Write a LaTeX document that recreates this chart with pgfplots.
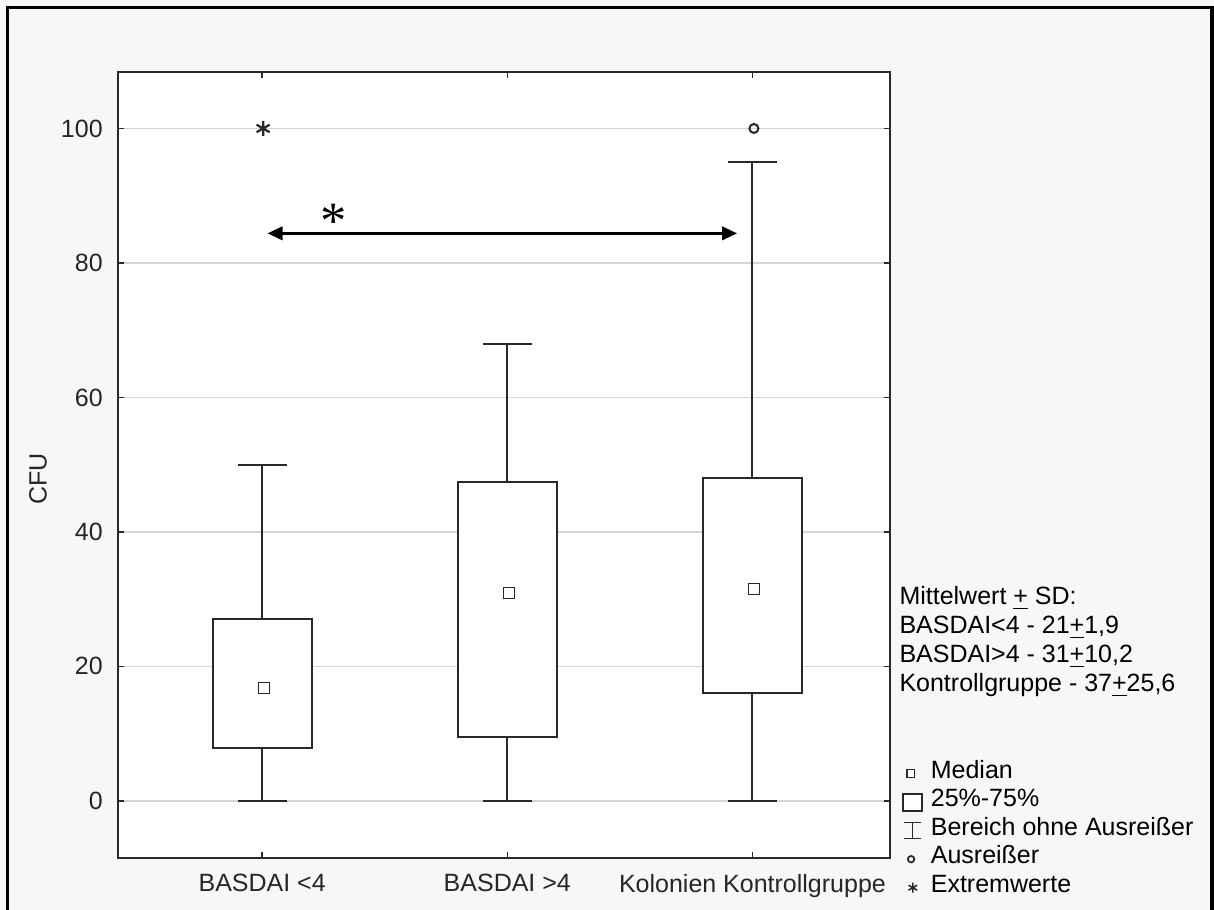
\documentclass[border=0pt]{standalone}
\usepackage{pgfplots}
\pgfplotsset{compat=1.18}
\usepackage{fontspec}
\setmainfont{Liberation Sans}
\newfontfamily\serifast{Liberation Serif}
\usetikzlibrary{arrows.meta}
\definecolor{bg}{RGB}{247,247,247}
\definecolor{gridc}{RGB}{214,214,214}
\definecolor{axc}{RGB}{40,40,40}
\begin{document}
\begin{tikzpicture}
\path[use as bounding box, fill=bg] (0,0) rectangle (485.6pt,364pt);
\draw[black, line width=1.3pt] (3pt,0pt) -- (3pt,361pt) -- (484.8pt,361pt) -- (484.8pt,0pt);
\begin{axis}[
  at={(47.2pt,20.8pt)}, anchor=south west,
  scale only axis, width=308.8pt, height=314.4pt,
  xmin=0.412, xmax=3.561, ymin=-8.5, ymax=108.4,
  xtick={1,2,3},
  xticklabels={BASDAI <4, BASDAI >4, Kolonien Kontrollgruppe},
  ytick={0,20,...,100},
  tick align=inside, major tick length=2.4pt,
  tick style={axc, line width=0.6pt},
  axis line style={axc, line width=0.8pt},
  axis background/.style={fill=white},
  ymajorgrids, major grid style={gridc, line width=0.6pt},
  font=\fontsize{10}{12}\selectfont,
  ticklabel style={font=\fontsize{10}{12}\selectfont, text=black!85},
  /pgf/number format/assume math mode=true,
  yticklabel style={xshift=-2.6pt},
  xticklabel style={yshift=-3pt},
  ylabel={CFU},
  ylabel style={at={(axis description cs:-0.1036,0.482)}, anchor=center, text=black!85},
  legend style={at={(axis description cs:1.0155,0.126)}, anchor=north west,
    draw=none, fill=none, inner sep=0pt,
    nodes={inner sep=0pt, text height=7.6pt, text depth=3.8pt, anchor=west},
    font=\fontsize{10}{12}\selectfont, row sep=0pt},
  legend cell align=left,
]
% whiskers
\addplot[forget plot, axc, line width=0.8pt] coordinates {(1,27.0) (1,50)};
\addplot[forget plot, axc, line width=0.8pt] coordinates {(0.9,50) (1.1,50)};
\addplot[forget plot, axc, line width=0.8pt] coordinates {(1,0) (1,7.8)};
\addplot[forget plot, axc, line width=0.8pt] coordinates {(0.9,0) (1.1,0)};
\addplot[forget plot, axc, line width=0.8pt] coordinates {(2,47.4) (2,68)};
\addplot[forget plot, axc, line width=0.8pt] coordinates {(1.9,68) (2.1,68)};
\addplot[forget plot, axc, line width=0.8pt] coordinates {(2,0) (2,9.5)};
\addplot[forget plot, axc, line width=0.8pt] coordinates {(1.9,0) (2.1,0)};
\addplot[forget plot, axc, line width=0.8pt] coordinates {(3,48.0) (3,95)};
\addplot[forget plot, axc, line width=0.8pt] coordinates {(2.9,95) (3.1,95)};
\addplot[forget plot, axc, line width=0.8pt] coordinates {(3,0) (3,16.1)};
\addplot[forget plot, axc, line width=0.8pt] coordinates {(2.9,0) (3.1,0)};
% boxes
\addplot[forget plot, draw=axc, fill=white, line width=0.8pt] coordinates {(0.798,7.8) (1.202,7.8) (1.202,27.0) (0.798,27.0)} -- cycle;
\addplot[forget plot, draw=axc, fill=white, line width=0.8pt] coordinates {(1.798,9.5) (2.202,9.5) (2.202,47.4) (1.798,47.4)} -- cycle;
\addplot[forget plot, draw=axc, fill=white, line width=0.8pt] coordinates {(2.798,16.1) (3.202,16.1) (3.202,48.0) (2.798,48.0)} -- cycle;
% medians
\addplot[forget plot, only marks, mark=square*, mark size=2.2pt, mark options={draw=axc, fill=white, line width=0.6pt}] coordinates {(1.007,16.8) (2.006,30.9) (3.006,31.5)};
% extreme value and outlier
\addplot[forget plot, only marks, mark=asterisk, mark size=3pt, mark options={draw=axc, line width=0.9pt}] coordinates {(1.004,100)};
\addplot[forget plot, only marks, mark=o, mark size=1.8pt, mark options={draw=axc, line width=0.8pt}] coordinates {(3.006,100)};
% significance arrow
\draw[black, line width=1pt, {Triangle[length=6pt,width=5.4pt]}-{Triangle[length=6pt,width=5.4pt]}] (axis cs:1.022,84.4) -- (axis cs:2.937,84.4);
\node[font=\serifast\fontsize{21}{21}\selectfont, inner sep=0pt, yshift=-2.6pt] at (axis cs:1.29,87.2) {*};
% legend
\addlegendimage{legend image code/.code={\path[draw=none, fill=none] (0pt,0pt) -- (11.2pt,0pt); \draw[axc, line width=0.6pt, fill=white] (1.6pt,-1.6pt) rectangle (4.6pt,1.6pt);}}
\addlegendentry{Median}
\addlegendimage{legend image code/.code={\path[draw=none, fill=none] (0pt,0pt) -- (11.2pt,0pt); \draw[axc, line width=0.7pt, fill=white] (0.2pt,-3.4pt) rectangle (7.8pt,3.4pt);}}
\addlegendentry{25\%-75\%}
\addlegendimage{legend image code/.code={\path[draw=none, fill=none] (0pt,0pt) -- (11.2pt,0pt); \draw[axc, line width=0.6pt] (0.4pt,3.2pt) -- (7.4pt,3.2pt) (3.9pt,3.2pt) -- (3.9pt,-3.2pt) (0.4pt,-3.2pt) -- (7.4pt,-3.2pt);}}
\addlegendentry{Bereich ohne Ausreißer}
\addlegendimage{legend image code/.code={\path[draw=none, fill=none] (0pt,0pt) -- (11.2pt,0pt); \draw[axc, line width=0.7pt, fill=none] (3.3pt,0pt) circle (1.3pt);}}
\addlegendentry{Ausreißer}
\addlegendimage{legend image code/.code={\path[draw=none, fill=none] (0pt,0pt) -- (11.2pt,0pt); \draw[axc, line width=0.6pt] (4pt,-2pt) -- (4pt,2pt) (2.27pt,-1pt) -- (5.73pt,1pt) (2.27pt,1pt) -- (5.73pt,-1pt);}}
\addlegendentry{Extremwerte}
\end{axis}
\begin{scope}[font=\fontsize{10}{12}\selectfont]
\node[anchor=base west, inner sep=0pt] at (359.6pt,122pt) {Mittelwert \underline{+} SD:};
\node[anchor=base west, inner sep=0pt] at (359.6pt,110.4pt) {BASDAI<4 - 21\underline{+}1,9};
\node[anchor=base west, inner sep=0pt] at (359.6pt,98.8pt) {BASDAI>4 - 31\underline{+}10,2};
\node[anchor=base west, inner sep=0pt] at (359.6pt,87.2pt) {Kontrollgruppe - 37\underline{+}25,6};
\end{scope}
\end{tikzpicture}
\end{document}
